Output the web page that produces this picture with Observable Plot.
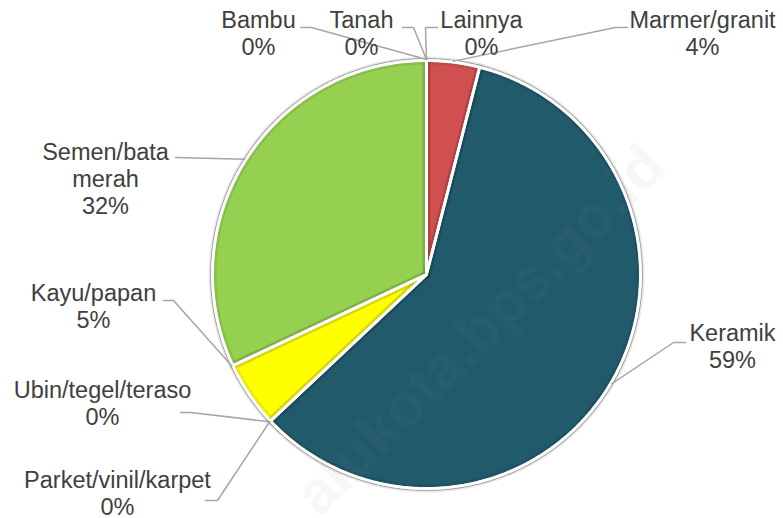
<!DOCTYPE html>
<html><head><meta charset="utf-8">
<script src="https://cdn.jsdelivr.net/npm/d3@7"></script>
<script src="https://cdn.jsdelivr.net/npm/@observablehq/plot@0.6"></script>
<style>body{margin:0;background:#fff;} #chart svg{display:block;}</style>
</head><body><div id="chart"></div>
<script>
// ---- data ----
const categories = ["Marmer/granit","Keramik","Parket/vinil/karpet","Ubin/tegel/teraso","Kayu/papan","Semen/bata merah","Bambu","Tanah","Lainnya"];
const percentages = [4, 59, 0, 0, 5, 32, 0, 0, 0];
const labelTexts = ["Marmer/granit","Keramik","Parket/vinil/karpet","Ubin/tegel/teraso","Kayu/papan","Semen/bata\nmerah","Bambu","Tanah","Lainnya"];
const watermark = "alukota.bps.go.id";

// ---- styles / layout (pixels) ----
const colors = ["#D0504F","#215A6B","#8064A2","#4BACC6","#FFFF00","#95D050","#F79646","#2C4D75","#772C2A"];
const W = 783, H = 518, CX = 426, CY = 274, R = 214;
const attach = [0.5, 0.5, 0.5, 0.5, 1, 0.5, 0.5, 0.5, 0.5];
const labelAt = [[702,20],[732,333],[117,480],[102,390],[93,293],[105,152],[258,20],[361,20],[481,20]];
const leaderElbows = [
  [[615,27],[627,27]],
  [[673,342],[685,342]],
  [[217,500],[205,500]],
  [[190,412],[180,412]],
  [[173,300],[163,300]],
  [[175,157]],
  [[311,27],[300,27]],
  [[413,27],[402,27]],
  [[425,27],[437,27]]
];

const ux = px => (px - CX) / R;
const uy = py => (CY - py) / R;

const rows = categories.map((c, i) => ({cat: c, value: percentages[i], i}));
const arcs = d3.pie().sort(null).value(d => d.value)(rows);

// slice polygons
const slicePts = [];
for (const a of arcs) {
  if (a.endAngle - a.startAngle <= 0) continue;
  const cat = a.data.cat;
  slicePts.push({cat, x: 0, y: 0});
  const n = Math.max(2, Math.ceil((a.endAngle - a.startAngle) / (Math.PI / 360)));
  for (let k = 0; k <= n; k++) {
    const t = a.startAngle + (a.endAngle - a.startAngle) * k / n;
    slicePts.push({cat, x: Math.sin(t), y: Math.cos(t)});
  }
}
// outer rim
const rim = d3.range(0, 721).map(k => { const t = k * Math.PI / 360; return {x: 1.004 * Math.sin(t), y: 1.004 * Math.cos(t)}; });

// leader lines
const leaderPts = [];
arcs.forEach(a => {
  const i = a.data.i;
  const t = a.startAngle + (a.endAngle - a.startAngle) * attach[i];
  leaderPts.push({cat: a.data.cat, x: 1.005 * Math.sin(t), y: 1.005 * Math.cos(t)});
  for (const [px, py] of leaderElbows[i]) leaderPts.push({cat: a.data.cat, x: ux(px), y: uy(py)});
});

// labels
const labels = rows.map(r => ({
  x: ux(labelAt[r.i][0]),
  y: uy(labelAt[r.i][1] - 11.5),
  text: labelTexts[r.i] + "\n" + Math.round(r.value) + "%"
}));

const font = "'Liberation Sans', Arial, sans-serif";
const chart = Plot.plot({
  width: W, height: H,
  margin: 0,
  x: {domain: [ux(0), ux(W)], axis: null},
  y: {domain: [uy(H), uy(0)], axis: null},
  color: {domain: categories, range: colors},
  style: {background: "#fff", fontFamily: font},
  marks: [
    Plot.line(rim, {x: "x", y: "y", stroke: "#a8a8a8", strokeWidth: 3, curve: "linear-closed"}),
    Plot.line(slicePts, {x: "x", y: "y", z: "cat", fill: "cat", stroke: "#fff", strokeWidth: 3, strokeLinejoin: "miter", curve: "linear-closed"}),
    Plot.line(slicePts, {x: "x", y: "y", z: "cat", stroke: "#000", strokeOpacity: 0.08, strokeWidth: 8, fill: "none", curve: "linear-closed"}),
    Plot.line(slicePts, {x: "x", y: "y", z: "cat", stroke: "#fff", strokeWidth: 2.5, fill: "none", curve: "linear-closed"}),
    Plot.text([watermark], {x: [ux(480)], y: [uy(330)], text: d => d, rotate: -45, fontSize: 60, fontWeight: "bold", fill: "#888", fillOpacity: 0.07, fontFamily: font}),
    Plot.line(leaderPts, {x: "x", y: "y", z: "cat", stroke: "#a6a6a6", strokeWidth: 1.5}),
    Plot.text(labels, {x: "x", y: "y", text: "text", lineAnchor: "top", lineHeight: 1.15, fontSize: 23.5, fill: "#404040", fontFamily: font})
  ]
});
document.getElementById("chart").appendChild(chart);
</script>
</body></html>
